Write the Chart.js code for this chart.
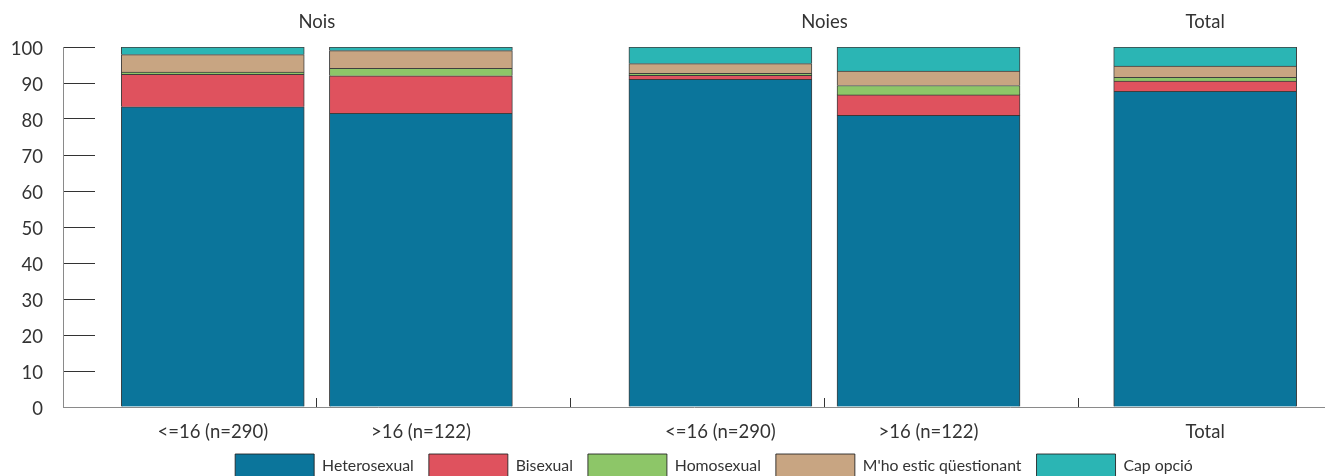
<!DOCTYPE html>
<html>
<head>
<meta charset="utf-8">
<script src="https://cdn.jsdelivr.net/npm/chart.js@4/dist/chart.umd.min.js"></script>
<style>
  html, body { margin: 0; padding: 0; background: #fff; }
  #wrap { width: 1325px; height: 476px; }
</style>
</head>
<body>
<div id="wrap"><canvas id="c" width="1325" height="476"></canvas></div>
<script>
// ---- Data ----
const categories = ['<=16 (n=290)', '>16 (n=122)', '<=16 (n=290)', '>16 (n=122)', 'Total'];
const groups = ['Nois', 'Noies', 'Total'];
const groupOfCategory = [0, 0, 1, 1, 2];
const yTicks = [0, 10, 20, 30, 40, 50, 60, 70, 80, 90, 100];

const heterosexual = [83.4, 81.6, 91.0, 81.0, 87.7];
const bisexual     = [9.0, 10.4, 1.1, 5.7, 2.8];
const homosexual   = [0.6, 2.1, 0.6, 2.6, 1.1];
const questionant  = [4.9, 4.9, 2.7, 4.0, 3.1];
const capOpcio     = [2.1, 1.0, 4.6, 6.7, 5.3];

const seriesNames = ['Heterosexual', 'Bisexual', 'Homosexual', "M'ho estic qüestionant", 'Cap opció'];
const seriesValues = [heterosexual, bisexual, homosexual, questionant, capOpcio];
const seriesColors = ['#0B759B', '#DF525E', '#8DC668', '#C8A582', '#2BB5B4'];

// ---- Layout of the category axis (slots) ----
const PAIR_OFFSET = 0.41;   // distance of each bar of a pair from the slot boundary
const X_MAX = 4.972;
const groupStart = [];
const groupSpan = [];
let s = 0;
groups.forEach((g, gi) => {
  const n = groupOfCategory.filter(v => v === gi).length;
  groupStart.push(s); groupSpan.push(n); s += n;
});
const catPos = categories.map((c, i) => {
  const gi = groupOfCategory[i];
  const members = groupOfCategory.map((v, k) => v === gi ? k : -1).filter(k => k >= 0);
  if (members.length === 1) return groupStart[gi] + 0.5;
  const mid = groupStart[gi] + groupSpan[gi] / 2;
  return members.indexOf(i) === 0 ? mid - PAIR_OFFSET : mid + PAIR_OFFSET;
});
const groupCenters = groups.map((g, gi) => groupStart[gi] + groupSpan[gi] / 2);

const xTickList = [];
for (let b = 1; b < s; b++) xTickList.push({ value: b, label: '', boundary: true });
categories.forEach((c, i) => xTickList.push({ value: catPos[i], label: c, boundary: false }));
xTickList.sort((a, b) => a.value - b.value);

Chart.defaults.font.family = 'Lato, "Open Sans", sans-serif';
Chart.defaults.color = '#333';

const legendNudge = {
  id: 'legendNudge',
  afterLayout(chart) {
    const lg = chart.legend;
    if (!lg) return;
    lg.top -= 8; lg.bottom -= 8;
    lg.left += 20; lg.right += 20;
  }
};

new Chart(document.getElementById('c'), {
  type: 'bar',
  data: {
    datasets: seriesNames.map((name, si) => ({
      label: name,
      data: categories.map((c, i) => ({ x: catPos[i], y: seriesValues[si][i] })),
      backgroundColor: seriesColors[si],
      borderColor: 'rgba(30,30,30,0.85)',
      borderWidth: 1,
      barThickness: 183,
      xAxisID: 'x',
      yAxisID: 'y'
    }))
  },
  options: {
    responsive: false,
    animation: false,
    layout: { padding: { top: 0, left: 0, right: 0, bottom: -20 } },
    plugins: {
      tooltip: { enabled: false },
      legend: {
        position: 'bottom',
        fullSize: false,
        labels: {
          boxWidth: 79,
          boxHeight: 24,
          padding: 15,
          font: { size: 15.8 },
          color: '#333'
        }
      }
    },
    scales: {
      x: {
        type: 'linear',
        position: 'bottom',
        stacked: true,
        offset: false,
        min: 0,
        max: X_MAX,
        afterBuildTicks(scale) { scale.ticks = xTickList.map(t => ({ value: t.value })); },
        afterFit(scale) { scale.height = 40; scale.paddingLeft = 0; scale.paddingRight = 0; },
        ticks: {
          autoSkip: false,
          maxRotation: 0,
          padding: 23,
          font: { size: 18.5 },
          color: '#333',
          callback: (v, i) => xTickList[i] ? xTickList[i].label : ''
        },
        grid: {
          offset: false,
          drawOnChartArea: false,
          drawTicks: true,
          tickLength: -9,
          color: (ctx) => (xTickList[ctx.index] && xTickList[ctx.index].boundary) ? '#333' : 'rgba(0,0,0,0)',
          tickWidth: 1
        },
        border: { display: true, color: '#8a8a8a', width: 1 }
      },
      xTop: {
        type: 'linear',
        position: 'top',
        offset: false,
        min: 0,
        max: X_MAX,
        afterBuildTicks(scale) { scale.ticks = groupCenters.map(v => ({ value: v })); },
        afterFit(scale) { scale.height = 47; scale.paddingLeft = 0; scale.paddingRight = 0; },
        ticks: {
          autoSkip: false,
          maxRotation: 0,
          padding: 14,
          font: { size: 18.5 },
          color: '#333',
          callback: (v, i) => groups[i]
        },
        grid: { display: false, drawTicks: false, offset: false },
        border: { display: false }
      },
      y: {
        type: 'linear',
        position: 'left',
        stacked: true,
        min: 0,
        max: 100,
        afterBuildTicks(scale) { scale.ticks = yTicks.map(v => ({ value: v })); },
        afterFit(scale) { scale.width = 63; scale.paddingTop = 10; scale.paddingBottom = 10; },
        ticks: {
          padding: 52,
          labelOffset: 2,
          font: { size: 18.5 },
          color: '#333'
        },
        grid: {
          drawOnChartArea: false,
          drawTicks: true,
          tickLength: -32,
          color: '#333',
          tickWidth: 1
        },
        border: { display: true, color: '#8a8a8a', width: 1 }
      }
    }
  },
  plugins: [legendNudge]
});
</script>
</body>
</html>
